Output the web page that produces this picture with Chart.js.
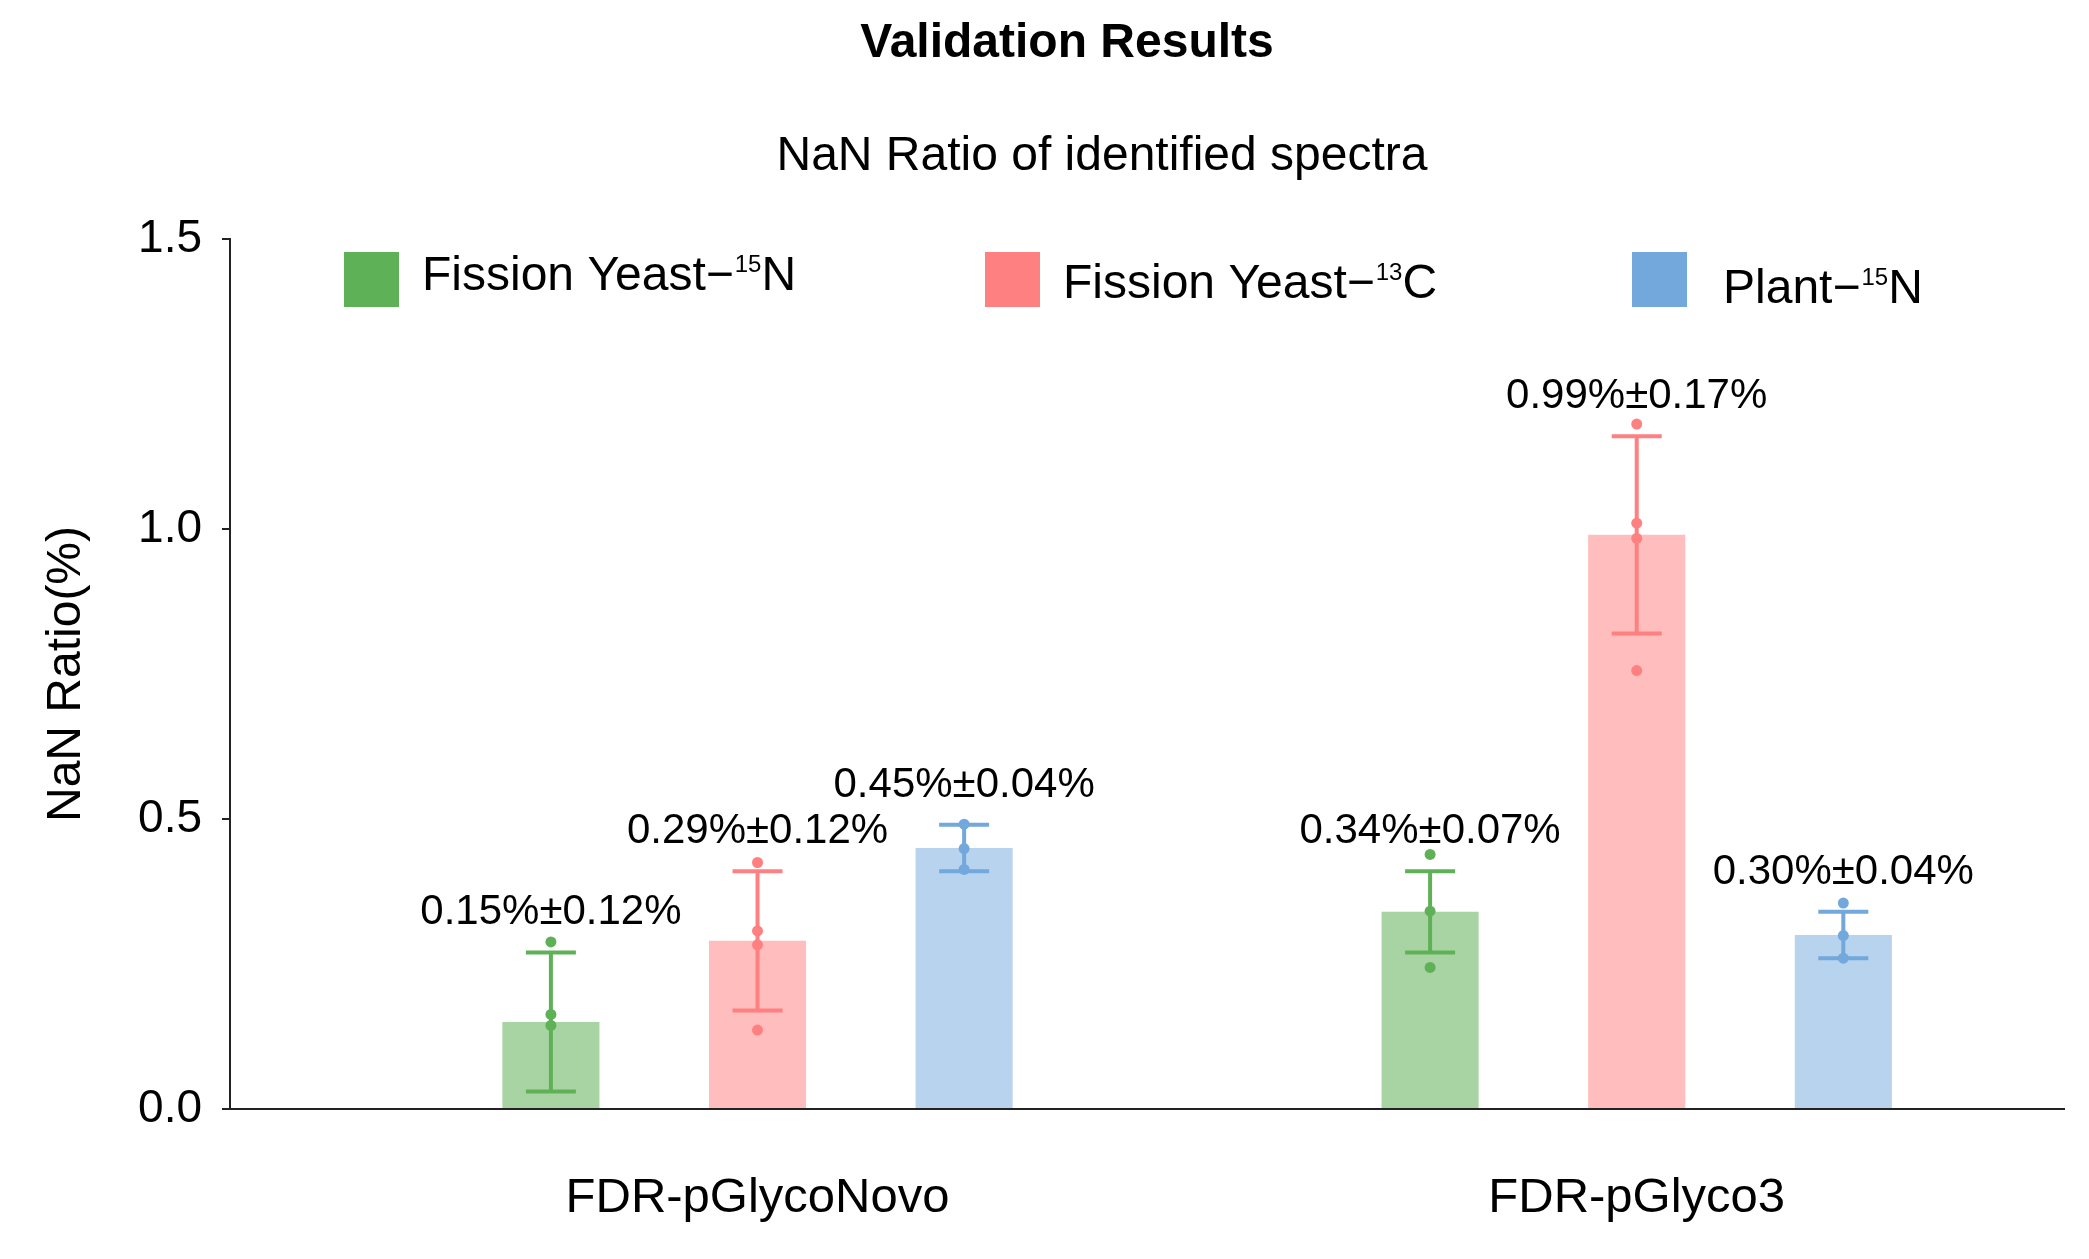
<!DOCTYPE html>
<html>
<head>
<meta charset="utf-8">
<script src="https://cdn.jsdelivr.net/npm/chart.js@4.4.1/dist/chart.umd.min.js"></script>
<style>
  body { margin: 0; background: #fff; }
  #wrap { width: 2089px; height: 1259px; }
</style>
</head>
<body>
<div id="wrap"><canvas id="nanChart"></canvas></div>
<script>
// ---- data ----
var categories = ['FDR-pGlycoNovo', 'FDR-pGlyco3'];
var yTicks = [0, 0.5, 1.0, 1.5];

var yeast15nMean = [0.15, 0.34];
var yeast15nSd = [0.12, 0.07];
var yeast15nPoints = [[0.288, 0.163, 0.144], [0.439, 0.341, 0.244]];

var yeast13cMean = [0.29, 0.99];
var yeast13cSd = [0.12, 0.17];
var yeast13cPoints = [[0.425, 0.307, 0.283, 0.136], [1.181, 1.010, 0.984, 0.756]];

var plant15nMean = [0.45, 0.30];
var plant15nSd = [0.04, 0.04];
var plant15nPoints = [[0.491, 0.449, 0.413], [0.355, 0.299, 0.260]];

// legend text: [before superscript, superscript, after]
var legendText = [['Fission Yeast\u2212', '15', 'N'], ['Fission Yeast\u2212', '13', 'C'], ['Plant\u2212', '15', 'N']];

var FONT = '"Liberation Sans", Arial, sans-serif';
var darkColors = ['#5fb157', '#ff8080', '#72a8dc'];
var lightColors = ['#a8d4a3', '#ffbdbe', '#b8d3ee'];

var series = [
    { mean: yeast15nMean, sd: yeast15nSd, points: yeast15nPoints },
    { mean: yeast13cMean, sd: yeast13cSd, points: yeast13cPoints },
    { mean: plant15nMean, sd: plant15nSd, points: plant15nPoints }
];

//-------------
//- error bars, replicate dots, value labels -
//-------------
var errorPlugin = {
    id: 'errorBars',
    afterDatasetsDraw: function(chart) {
        var ctx = chart.ctx;
        var yScale = chart.scales.y;
        ctx.save();
        series.forEach(function(s, di) {
            var meta = chart.getDatasetMeta(di);
            meta.data.forEach(function(bar, i) {
                var x = bar.x;
                var hi = yScale.getPixelForValue(s.mean[i] + s.sd[i]);
                var lo = yScale.getPixelForValue(s.mean[i] - s.sd[i]);
                ctx.strokeStyle = darkColors[di];
                ctx.lineWidth = 4;
                ctx.beginPath();
                ctx.moveTo(x, lo); ctx.lineTo(x, hi);
                ctx.moveTo(x - 25, hi); ctx.lineTo(x + 25, hi);
                ctx.moveTo(x - 25, lo); ctx.lineTo(x + 25, lo);
                ctx.stroke();
                ctx.fillStyle = darkColors[di];
                s.points[i].forEach(function(v) {
                    ctx.beginPath();
                    ctx.arc(x, yScale.getPixelForValue(v), 5.5, 0, Math.PI * 2);
                    ctx.fill();
                });
                ctx.fillStyle = '#000';
                ctx.font = '42px ' + FONT;
                ctx.textAlign = 'center';
                ctx.textBaseline = 'alphabetic';
                ctx.fillText(s.mean[i].toFixed(2) + '%\u00b1' + s.sd[i].toFixed(2) + '%', x, hi - 28);
            });
        });
        ctx.restore();
    }
};

//-------------
//- titles and legend -
//-------------
var decorPlugin = {
    id: 'decor',
    afterDraw: function(chart) {
        var ctx = chart.ctx;
        ctx.save();
        ctx.fillStyle = '#000';
        ctx.textBaseline = 'alphabetic';
        ctx.textAlign = 'center';
        ctx.font = 'bold 48px ' + FONT;
        ctx.fillText('Validation Results', 1067, 57);
        ctx.font = '48px ' + FONT;
        ctx.fillText('NaN Ratio of identified spectra', 1102, 170);

        var boxX = [344, 985, 1632];
        var textX = [422, 1063, 1723];
        var baseY = [290, 298, 303];
        ctx.textAlign = 'left';
        legendText.forEach(function(t, k) {
            ctx.fillStyle = darkColors[k];
            ctx.fillRect(boxX[k], 252, 55, 55);
            ctx.fillStyle = '#000';
            var x = textX[k];
            ctx.font = '48px ' + FONT;
            ctx.fillText(t[0], x, baseY[k]);
            x += ctx.measureText(t[0]).width + 1;
            ctx.font = '24px ' + FONT;
            ctx.fillText(t[1], x, baseY[k] - 18);
            x += ctx.measureText(t[1]).width;
            ctx.font = '48px ' + FONT;
            ctx.fillText(t[2], x, baseY[k]);
        });
        ctx.restore();
    }
};

var nanCanvas = document.getElementById('nanChart').getContext('2d');
Chart.defaults.color = '#000';
Chart.defaults.font.family = FONT;

var nanChart = new Chart(nanCanvas, {
    type: 'bar',
    data: {
        datasets: series.map(function(s, di) {
            return {
                label: legendText[di].join(''),
                data: s.mean.map(function(v, i) { return { x: i, y: v }; }),
                backgroundColor: lightColors[di],
                borderWidth: 0,
                categoryPercentage: 0.705,
                barPercentage: 0.47
            };
        })
    },
    options: {
        responsive: true,
        maintainAspectRatio: false,
        animation: false,
        layout: { padding: { top: 239, right: 25, bottom: 0, left: 0 } },
        plugins: { legend: { display: false }, title: { display: false }, tooltip: { enabled: false } },
        scales: {
            x: {
                type: 'linear',
                offset: false,
                min: -0.6,
                max: 1.486,
                afterBuildTicks: function(scale) {
                    scale.ticks = categories.map(function(c, i) { return { value: i }; });
                },
                afterFit: function(scale) { scale.height = 150; },
                grid: { display: false, drawTicks: false, offset: false },
                border: { display: true, color: '#222', width: 2 },
                ticks: {
                    padding: 60,
                    font: { size: 49 },
                    callback: function(v, i) { return categories[i]; }
                }
            },
            y: {
                min: 0,
                max: 1.5,
                afterBuildTicks: function(scale) {
                    scale.ticks = yTicks.map(function(v) { return { value: v }; });
                },
                afterFit: function(scale) { scale.width = 230; },
                grid: { drawOnChartArea: false, drawTicks: true, tickLength: 8, color: '#222', lineWidth: 2 },
                border: { display: true, color: '#222', width: 2 },
                ticks: {
                    padding: 20,
                    font: { size: 46 },
                    callback: function(v) { return v.toFixed(1); }
                },
                title: {
                    display: true,
                    text: 'NaN Ratio(%)',
                    font: { size: 48 },
                    padding: { top: 38, bottom: 0 }
                }
            }
        }
    },
    plugins: [errorPlugin, decorPlugin]
});
</script>
</body>
</html>
